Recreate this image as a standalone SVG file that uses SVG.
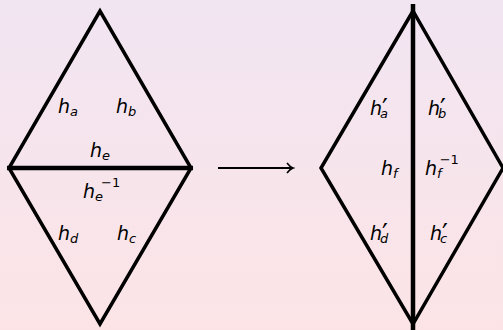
<svg xmlns="http://www.w3.org/2000/svg" width="503" height="330" viewBox="0 0 503 330">
<defs>
<linearGradient id="bg" x1="0" y1="0" x2="0" y2="1">
<stop offset="0" stop-color="#f1e5f2"/>
<stop offset="1" stop-color="#fce4e6"/>
</linearGradient>
<marker id="arr" markerWidth="10" markerHeight="12" refX="8" refY="6" orient="auto" markerUnits="userSpaceOnUse">
<path d="M2,1 Q5,5 8,6 Q5,7 2,11" fill="none" stroke="#000" stroke-width="1.6"/>
</marker>
<style>
.e{fill:none;stroke:#000;stroke-width:3.5;stroke-linejoin:miter}
.m{fill:none;stroke:#000;stroke-width:4.5}
text{font-family:"DejaVu Sans","Open Sans",sans-serif;font-style:italic;font-size:19px;fill:#000}
.s{font-size:13px}
.u{font-size:13px;font-style:normal}
.p{font-size:26px;font-style:normal}
</style>
</defs>
<rect width="503" height="330" fill="url(#bg)"/>
<g id="left-diamond">
<polygon class="e" points="100,11 9,168 100,324 191,168"/>
<line class="m" x1="7" y1="168" x2="193" y2="168"/>
<text x="58" y="113">h<tspan class="s" dy="3">a</tspan></text>
<text x="116" y="113">h<tspan class="s" dy="3">b</tspan></text>
<text x="90" y="157">h<tspan class="s" dy="3">e</tspan></text>
<text x="83" y="198">h<tspan class="s" dy="3">e</tspan><tspan class="u" dx="-2" dy="-14">−1</tspan></text>
<text x="58" y="240">h<tspan class="s" dy="3">d</tspan></text>
<text x="117" y="240">h<tspan class="s" dy="3">c</tspan></text>
</g>
<g id="right-diamond">
<polygon class="e" points="413,11 321,168 413,324 503,168"/>
<line class="m" x1="413" y1="4" x2="413" y2="330"/>
<text x="370" y="115">h<tspan class="p" dx="0" dy="3">′</tspan><tspan class="s" dx="-8" dy="0">a</tspan></text>
<text x="428" y="115">h<tspan class="p" dx="0" dy="3">′</tspan><tspan class="s" dx="-8" dy="0">b</tspan></text>
<text x="381" y="175">h<tspan class="s" dy="3">f</tspan></text>
<text x="425" y="175">h<tspan class="s" dy="3">f</tspan><tspan class="u" dx="-2" dy="-14">−1</tspan></text>
<text x="370" y="240">h<tspan class="p" dx="0" dy="3">′</tspan><tspan class="s" dx="-8" dy="0">d</tspan></text>
<text x="430" y="240">h<tspan class="p" dx="0" dy="3">′</tspan><tspan class="s" dx="-8" dy="0">c</tspan></text>
</g>
<g id="connectors">
<line x1="218" y1="168" x2="293" y2="168" stroke="#000" stroke-width="1.8" marker-end="url(#arr)"/>
</g>
</svg>
